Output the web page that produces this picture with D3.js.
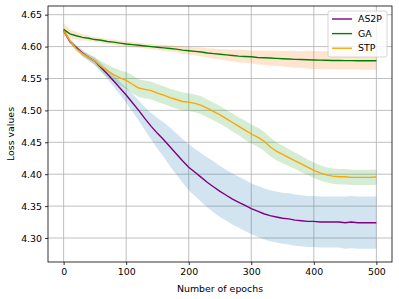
<!DOCTYPE html>
<html>
<head>
<meta charset="utf-8">
<script src="https://cdn.jsdelivr.net/npm/d3@7"></script>
<style>
  body { margin: 0; background: #fff; }
  text { font-family: "DejaVu Sans", sans-serif; }
</style>
</head>
<body>
<svg id="chart" width="399" height="299"></svg>
<script>
// epochs sampled every 10
const epochs = d3.range(0, 501, 10)

const as2p = [
    4.625, 4.608, 4.599, 4.590, 4.583, 4.577, 4.567, 4.557, 4.546, 4.535,
    4.524, 4.512, 4.500, 4.487, 4.475, 4.464, 4.454, 4.443, 4.432, 4.421,
    4.411, 4.403, 4.395, 4.387, 4.380, 4.373, 4.367, 4.361, 4.356, 4.351,
    4.346, 4.342, 4.338, 4.335, 4.333, 4.331, 4.330, 4.328, 4.327, 4.326,
    4.326, 4.325, 4.325, 4.325, 4.325, 4.324, 4.325, 4.324, 4.324, 4.324,
    4.324
]
const as2pSpread = [
    0.003, 0.004, 0.004, 0.005, 0.005, 0.006, 0.007, 0.008, 0.009, 0.010,
    0.012, 0.014, 0.016, 0.018, 0.021, 0.024, 0.027, 0.030, 0.032, 0.034,
    0.036, 0.037, 0.038, 0.039, 0.040, 0.040, 0.040, 0.040, 0.040, 0.040,
    0.040, 0.040, 0.040, 0.040, 0.040, 0.040, 0.040, 0.040, 0.040, 0.040,
    0.040, 0.040, 0.040, 0.040, 0.040, 0.041, 0.041, 0.041, 0.041, 0.041,
    0.041
]

const ga = [
    4.627, 4.620, 4.617, 4.6145, 4.613, 4.611, 4.610, 4.608, 4.607, 4.6055,
    4.604, 4.603, 4.602, 4.601, 4.600, 4.599, 4.598, 4.597, 4.596, 4.5945,
    4.5935, 4.5925, 4.5915, 4.590, 4.589, 4.588, 4.587, 4.586, 4.585, 4.5845,
    4.584, 4.583, 4.5825, 4.582, 4.5815, 4.581, 4.5805, 4.580, 4.5797, 4.5793,
    4.579, 4.5787, 4.5785, 4.5783, 4.5781, 4.578, 4.578, 4.5779, 4.5778, 4.5778,
    4.5777
]
const gaSpread = [
    0.010, 0.007, 0.006, 0.005, 0.004, 0.004, 0.004, 0.004, 0.004, 0.004,
    0.004, 0.004, 0.004, 0.004, 0.004, 0.004, 0.005, 0.005, 0.005, 0.006,
    0.006, 0.006, 0.007, 0.007, 0.008, 0.008, 0.009, 0.009, 0.010, 0.010,
    0.010, 0.011, 0.011, 0.012, 0.012, 0.012, 0.013, 0.013, 0.013, 0.014,
    0.014, 0.014, 0.014, 0.014, 0.014, 0.014, 0.014, 0.014, 0.014, 0.014,
    0.014
]

const stp = [
    4.625, 4.609, 4.597, 4.589, 4.583, 4.577, 4.569, 4.562, 4.556, 4.551,
    4.547, 4.541, 4.535, 4.533, 4.531, 4.527, 4.524, 4.520, 4.517, 4.514,
    4.513, 4.511, 4.508, 4.503, 4.498, 4.493, 4.487, 4.481, 4.475, 4.469,
    4.463, 4.458, 4.452, 4.443, 4.436, 4.431, 4.426, 4.421, 4.416, 4.411,
    4.406, 4.402, 4.399, 4.397, 4.396, 4.396, 4.395, 4.395, 4.395, 4.395,
    4.3955
]
const stpSpread = [
    0.003, 0.003, 0.004, 0.004, 0.005, 0.006, 0.008, 0.010, 0.011, 0.012,
    0.013, 0.014, 0.014, 0.014, 0.014, 0.014, 0.014, 0.014, 0.014, 0.014,
    0.014, 0.014, 0.014, 0.014, 0.014, 0.014, 0.014, 0.014, 0.014, 0.015,
    0.015, 0.015, 0.015, 0.015, 0.014, 0.014, 0.013, 0.013, 0.013, 0.012,
    0.012, 0.012, 0.012, 0.012, 0.012, 0.012, 0.012, 0.012, 0.012, 0.012,
    0.012
]

const xTicks = [0, 100, 200, 300, 400, 500]
const yTicks = [4.30, 4.35, 4.40, 4.45, 4.50, 4.55, 4.60, 4.65]

// line colour + shade colour (shades follow matplotlib's default cycle)
const series = [
    { name: 'AS2P', values: as2p, spread: as2pSpread, color: 'purple', shade: '#1f77b4' },
    { name: 'GA', values: ga, spread: gaSpread, color: 'green', shade: '#ff7f0e' },
    { name: 'STP', values: stp, spread: stpSpread, color: 'orange', shade: '#2ca02c' }
]

const m = { left: 48, right: 392, top: 6, bottom: 262 }
const fontSize = 9.4

const svg = d3.select('#chart')

const x = d3.scaleLinear().domain([-25, 525]).range([m.left, m.right])
const y = d3.scaleLinear().domain([4.2624, 4.6636]).range([m.bottom, m.top])

// grid
const grid = svg.append('g').attr('stroke', '#b0b0b0').attr('stroke-width', 0.8)
grid.selectAll('.gx')
    .data(xTicks)
    .join('line')
    .attr('x1', d => x(d)).attr('x2', d => x(d))
    .attr('y1', m.top).attr('y2', m.bottom)
grid.selectAll('.gy')
    .data(yTicks)
    .join('line')
    .attr('y1', d => y(d)).attr('y2', d => y(d))
    .attr('x1', m.left).attr('x2', m.right)

// shaded bands
const area = d3.area()
    .x((d, i) => x(epochs[i]))
    .y0(d => y(d.v - d.s))
    .y1(d => y(d.v + d.s))

const line = d3.line()
    .x((d, i) => x(epochs[i]))
    .y(d => y(d))

const plot = svg.append('g')

series.forEach(s => {
    plot.append('path')
        .datum(s.values.map((v, i) => ({ v, s: s.spread[i] })))
        .attr('d', area)
        .attr('fill', s.shade)
        .attr('fill-opacity', 0.2)
})

series.forEach(s => {
    plot.append('path')
        .datum(s.values)
        .attr('d', line)
        .attr('fill', 'none')
        .attr('stroke', s.color)
        .attr('stroke-width', 1.4)
})

// axes
const xAxis = svg.append('g')
    .attr('transform', `translate(0,${m.bottom})`)
    .call(d3.axisBottom(x).tickValues(xTicks).tickSize(3).tickPadding(3).tickFormat(d3.format('d')))
const yAxis = svg.append('g')
    .attr('transform', `translate(${m.left},0)`)
    .call(d3.axisLeft(y).tickValues(yTicks).tickSize(3).tickPadding(3).tickFormat(d3.format('.2f')))

;[xAxis, yAxis].forEach(a => {
    a.select('.domain').remove()
    a.selectAll('text').attr('font-size', fontSize).attr('fill', '#000')
        .attr('font-family', '"DejaVu Sans", sans-serif')
    a.selectAll('line').attr('stroke', '#000').attr('stroke-width', 0.8)
})

// frame
svg.append('rect')
    .attr('x', m.left).attr('y', m.top)
    .attr('width', m.right - m.left).attr('height', m.bottom - m.top)
    .attr('fill', 'none')
    .attr('stroke', '#000')
    .attr('stroke-width', 0.8)

// labels
svg.append('text')
    .attr('x', (m.left + m.right) / 2)
    .attr('y', 292)
    .attr('text-anchor', 'middle')
    .attr('font-size', fontSize)
    .text('Number of epochs')

svg.append('text')
    .attr('transform', `translate(14,${(m.top + m.bottom) / 2}) rotate(-90)`)
    .attr('text-anchor', 'middle')
    .attr('font-size', fontSize)
    .text('Loss values')

// legend
const legend = svg.append('g').attr('transform', 'translate(328,11)')
legend.append('rect')
    .attr('width', 59).attr('height', 46)
    .attr('rx', 2)
    .attr('fill', '#fff').attr('fill-opacity', 0.8)
    .attr('stroke', '#cccccc').attr('stroke-width', 0.8)

const entry = legend.selectAll('.entry')
    .data(series)
    .join('g')
    .attr('transform', (d, i) => `translate(0,${8 + i * 14.6})`)
entry.append('line')
    .attr('x1', 4).attr('x2', 24)
    .attr('stroke', d => d.color)
    .attr('stroke-width', 1.4)
entry.append('text')
    .attr('x', 30)
    .attr('dy', '0.35em')
    .attr('font-size', fontSize)
    .text(d => d.name)
</script>
</body>
</html>
